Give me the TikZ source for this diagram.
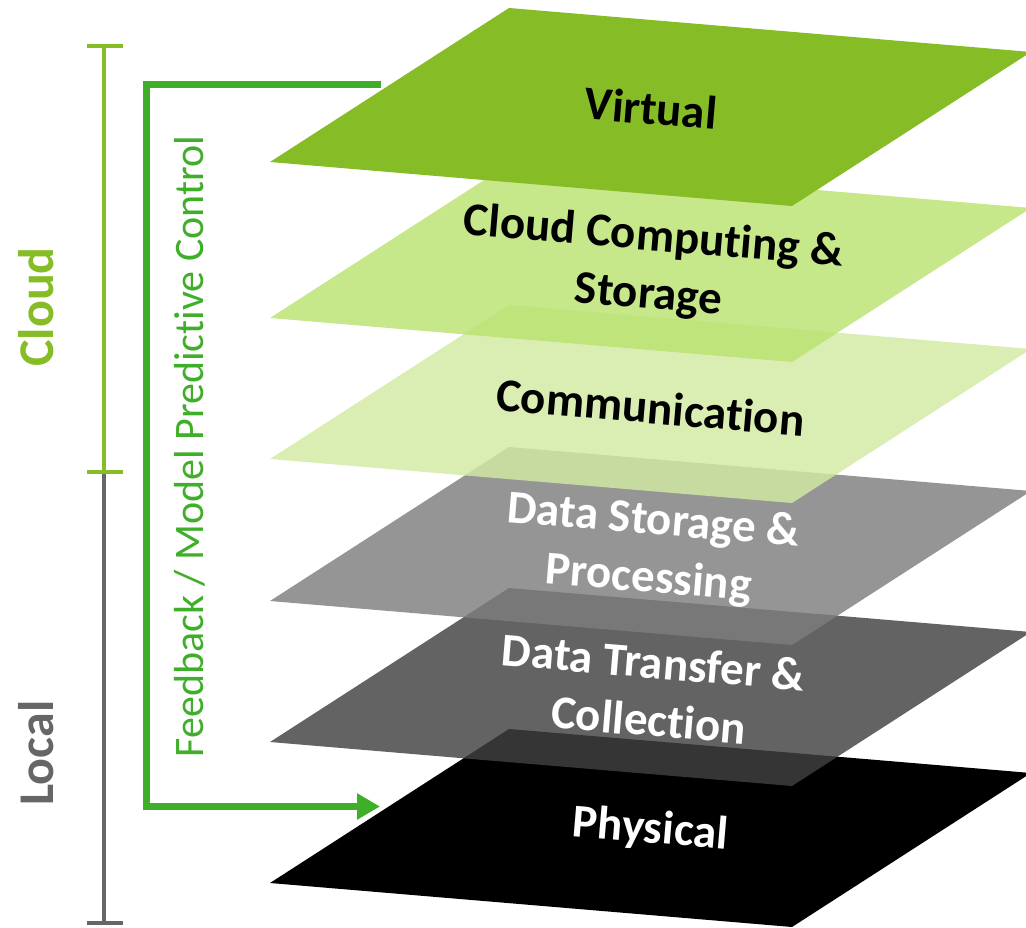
\documentclass[tikz,border=0pt]{standalone}
\usepackage{fontspec}
\setmainfont{Carlito}[Ligatures=NoCommon]
\usetikzlibrary{arrows.meta}

\definecolor{virtualgreen}{RGB}{134,188,37}
\definecolor{cloudfill}{RGB}{185,226,112}
\definecolor{commfill}{RGB}{210,234,162}
\definecolor{storefill}{RGB}{126,126,126}
\definecolor{transferfill}{RGB}{65,65,65}
\definecolor{fbgreen}{RGB}{63,174,41}
\definecolor{localgray}{RGB}{102,102,102}

\tikzset{
  translucent/.style={fill opacity=0.82},
  layerlabel/.style={font=\bfseries\fontsize{47}{58}\selectfont, align=center,
    rotate=-4.8, inner sep=0pt},
  sidelabel/.style={font=\bfseries\fontsize{50}{60}\selectfont, rotate=90,
    anchor=base, inner sep=0pt},
  bracketline/.style={line width=4pt},
  fbarrow/.style={draw=fbgreen, line width=7pt,
    -{Triangle[length=23pt,width=25pt]}},
}

\begin{document}
\begin{tikzpicture}[x=1pt,y=-1pt]
\useasboundingbox (0,0) rectangle (1026,928);
\clip (0,0) rectangle (1026,928);

% stacked planes, bottom to top; each is a parallelogram given by its left corner
% Physical
\fill[black] (270,883) -- ++(239,-154) -- ++(522,44) -- ++(-239,154) -- cycle;
\node[layerlabel, text=white] (physical) at (650.5,830) {Physical};
% Data Transfer & Collection
\fill[transferfill, translucent] (270,742) -- ++(239,-154) -- ++(522,44) -- ++(-239,154) -- cycle;
\node[layerlabel, text=white] (transfer) at (651,691) {Data Transfer \&\\Collection};
% Data Storage & Processing
\fill[storefill, translucent] (270,601) -- ++(239,-154) -- ++(522,44) -- ++(-239,154) -- cycle;
\node[layerlabel, text=white] (storage) at (651,551) {Data Storage \&\\Processing};
% Communication
\fill[commfill, translucent] (270,459) -- ++(239,-154) -- ++(522,44) -- ++(-239,154) -- cycle;
\node[layerlabel, text=black] (comm) at (650.5,407) {Communication};
% Cloud Computing & Storage
\fill[cloudfill, translucent] (270,318) -- ++(239,-154) -- ++(522,44) -- ++(-239,154) -- cycle;
\node[layerlabel, text=black] (cloudcomp) at (651,267) {Cloud Computing \&\\Storage};
% Virtual
\fill[virtualgreen] (270,162) -- ++(239,-154) -- ++(522,44) -- ++(-239,154) -- cycle;
\node[layerlabel, text=black] (virtual) at (651,108) {Virtual};

% Local / Cloud brackets
\coordinate (localtop) at (104,472);
\coordinate (localbot) at (104,923);
\coordinate (cloudtop) at (104,46);
\draw[bracketline, localgray] (localtop) -- (localbot);
\draw[bracketline, localgray] ([xshift=-17pt]localbot) -- ([xshift=19pt]localbot);
\draw[bracketline, virtualgreen] (cloudtop) -- (localtop);
\draw[bracketline, virtualgreen] ([xshift=-17pt]cloudtop) -- ([xshift=19pt]cloudtop);
\draw[bracketline, virtualgreen] ([xshift=-17pt]localtop) -- ([xshift=19pt]localtop);

\node[sidelabel, text=virtualgreen] (cloudlbl) at (53,307) {Cloud};
\node[sidelabel, text=localgray] (locallbl) at (53,753) {Local};

% feedback loop from the virtual layer back to the physical layer
\coordinate (fbstart) at (381,84.5);
\coordinate (fbend) at (380,806.5);
\draw[fbarrow] (fbstart) -- (146.5,84.5) |- (fbend);
\node[rotate=90, anchor=base, inner sep=0pt, text=fbgreen,
  font=\fontsize{42}{50}\selectfont] (fblabel) at (203,446.5)
  {Feedback / Model Predictive Control};
\end{tikzpicture}
\end{document}
